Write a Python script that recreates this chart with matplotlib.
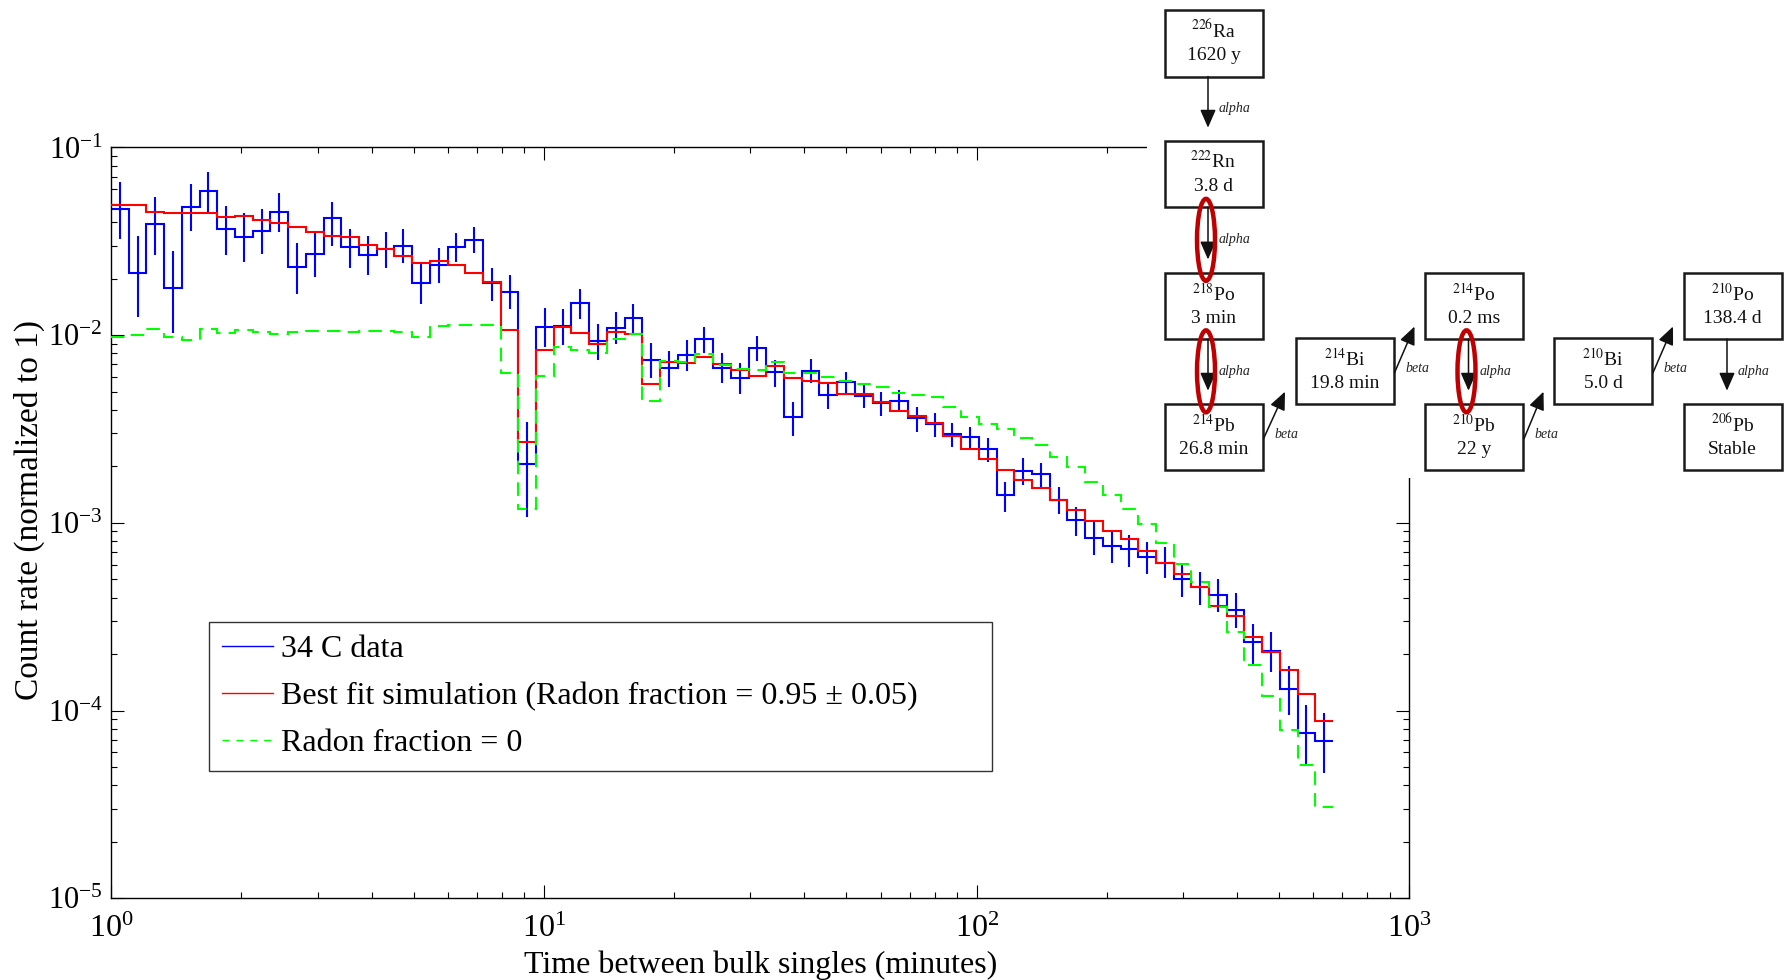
# grafico_radon.py
# Tiempo entre "bulk singles" con la cadena de desintegracion del radon

import numpy as np
import matplotlib.pyplot as plt
from matplotlib.patches import Rectangle, Ellipse, FancyArrowPatch
from matplotlib.lines import Line2D

plt.rcParams["font.family"] = ["Liberation Serif", "DejaVu Serif"]
plt.rcParams["mathtext.fontset"] = "stix"

# --------------------------------------------------
# DATOS
# bins logaritmicos entre 1 y ~666 minutos
# --------------------------------------------------
limites_bins = np.logspace(0, np.log10(666.0), 70)

datos_34c = np.array([
    0.0470, 0.0214, 0.0391, 0.0178, 0.0484, 0.0589, 0.0368, 0.0334, 0.0360, 0.0453,
    0.0230, 0.0272, 0.0420, 0.0294, 0.0268, 0.0287, 0.0300, 0.0190, 0.0238, 0.0294,
    0.0321, 0.0189, 0.0170, 0.00205, 0.0111, 0.0112, 0.0148, 0.00931, 0.01096, 0.0123,
    0.00738, 0.00672, 0.00784, 0.00951, 0.00672, 0.00589, 0.00858, 0.00634, 0.00365, 0.00647,
    0.00480, 0.00561, 0.00476, 0.00434, 0.00448, 0.00361, 0.00336, 0.00296, 0.00286, 0.00248,
    0.00140, 0.00190, 0.00182, 0.00132, 0.00103, 0.000834, 0.000753, 0.000723, 0.000656, 0.000609,
    0.000501, 0.000457, 0.000413, 0.000344, 0.000233, 0.000208, 0.000131, 0.0000757, 0.0000689])

# extremos de las barras de error
datos_sup = np.array([
    0.0653, 0.0338, 0.0543, 0.0281, 0.0639, 0.0743, 0.0488, 0.0446, 0.0469, 0.0570,
    0.0309, 0.0355, 0.0511, 0.0370, 0.0338, 0.0356, 0.0367, 0.0242, 0.0290, 0.0352,
    0.0378, 0.0229, 0.0208, 0.00344, 0.0139, 0.0138, 0.0176, 0.01148, 0.01324, 0.01461,
    0.00905, 0.00824, 0.00943, 0.01110, 0.00801, 0.00708, 0.00987, 0.00738, 0.00442, 0.00744,
    0.00561, 0.00639, 0.00550, 0.00500, 0.00510, 0.00413, 0.00384, 0.00342, 0.00325, 0.00284,
    0.00166, 0.00221, 0.00209, 0.00156, 0.00122, 0.00101, 0.000917, 0.000862, 0.000788, 0.000746,
    0.000604, 0.000550, 0.000501, 0.000422, 0.000289, 0.000263, 0.000173, 0.000107, 0.0000974])

datos_inf = np.array([
    0.0324, 0.01255, 0.0268, 0.01031, 0.0359, 0.0452, 0.0268, 0.0245, 0.0270, 0.0356,
    0.0165, 0.0203, 0.0299, 0.0229, 0.0209, 0.0227, 0.0243, 0.0147, 0.0190, 0.0245,
    0.0273, 0.0152, 0.0138, 0.00108, 0.00868, 0.00887, 0.0122, 0.00741, 0.00898, 0.01031,
    0.00589, 0.00532, 0.00645, 0.00801, 0.00554, 0.00484, 0.00731, 0.00532, 0.00291, 0.00554,
    0.00403, 0.00484, 0.00408, 0.00371, 0.00388, 0.00306, 0.00288, 0.00253, 0.00245, 0.00212,
    0.00114, 0.00159, 0.00155, 0.00112, 0.000847, 0.000675, 0.000614, 0.000584, 0.000534, 0.000507,
    0.000404, 0.000365, 0.000336, 0.000274, 0.000176, 0.000161, 0.0000948, 0.0000507, 0.0000463])

# simulacion con mejor ajuste (fraccion de radon 0.95)
ajuste = np.array([
    0.0494, 0.0494, 0.0453, 0.0446, 0.0446, 0.0449, 0.0428, 0.0434, 0.0410, 0.0395,
    0.0378, 0.0356, 0.0338, 0.0332, 0.0302, 0.0288, 0.0264, 0.0241, 0.0247, 0.0237,
    0.0215, 0.0193, 0.01066, 0.00270, 0.00834, 0.0111, 0.01021, 0.00898, 0.01035, 0.01019,
    0.00548, 0.00722, 0.00714, 0.00768, 0.00702, 0.00653, 0.00608, 0.00685, 0.00594, 0.00570,
    0.00554, 0.00488, 0.00485, 0.00442, 0.00396, 0.00373, 0.00339, 0.00289, 0.00248, 0.00220,
    0.00191, 0.00169, 0.00153, 0.00132, 0.00117, 0.00102, 0.000909, 0.000821, 0.000711, 0.000609,
    0.000534, 0.000457, 0.000362, 0.000320, 0.000248, 0.000206, 0.000165, 0.000123, 0.0000880])

# simulacion con fraccion de radon = 0
radon_cero = np.array([
    0.00972, 0.01003, 0.01076, 0.00972, 0.00946, 0.01075, 0.01023, 0.01066, 0.01043, 0.01012,
    0.01043, 0.01055, 0.01055, 0.01040, 0.01053, 0.01053, 0.01040, 0.00982, 0.01124, 0.01137,
    0.01137, 0.01129, 0.00631, 0.00118, 0.00603, 0.00860, 0.00834, 0.00799, 0.00949, 0.01015,
    0.00448, 0.00730, 0.00722, 0.00792, 0.00694, 0.00662, 0.00655, 0.00722, 0.00631, 0.00627,
    0.00599, 0.00568, 0.00550, 0.00528, 0.00490, 0.00480, 0.00470, 0.00412, 0.00368, 0.00336,
    0.00315, 0.00282, 0.00259, 0.00224, 0.00199, 0.00165, 0.00141, 0.00118, 0.000986, 0.000778,
    0.000602, 0.000486, 0.000356, 0.000261, 0.000175, 0.000120, 0.0000788, 0.0000513, 0.0000308])

etiquetas = ["34 C data",
             "Best fit simulation (Radon fraction = 0.95 ± 0.05)",
             "Radon fraction = 0"]

# cadena de desintegracion
isotopos = ["$^{226}$Ra", "$^{222}$Rn", "$^{218}$Po", "$^{214}$Pb", "$^{214}$Bi",
            "$^{214}$Po", "$^{210}$Pb", "$^{210}$Bi", "$^{210}$Po", "$^{206}$Pb"]
vidas_medias = ["1620 y", "3.8 d", "3 min", "26.8 min", "19.8 min",
                "0.2 ms", "22 y", "5.0 d", "138.4 d", "Stable"]
columna = [0, 0, 0, 0, 1, 2, 2, 3, 4, 4]
fila = [0, 1, 2, 4, 3, 2, 4, 3, 2, 4]
# (origen, destino, tipo)
desintegraciones = [(0, 1, "alpha"), (1, 2, "alpha"), (2, 3, "alpha"), (3, 4, "beta"),
                    (4, 5, "beta"), (5, 6, "alpha"), (6, 7, "beta"), (7, 8, "beta"),
                    (8, 9, "alpha")]
marcadas = [1, 2, 5]   # desintegraciones rodeadas con elipse roja

# --------------------------------------------------
# GRAFICO PRINCIPAL
# --------------------------------------------------
fig = plt.figure(figsize=(17.85, 9.8), dpi=100)
ax = fig.add_axes([0.0622, 0.0834, 0.7274, 0.7661])

centros = np.sqrt(limites_bins[:-1] * limites_bins[1:])

ax.stairs(datos_34c, limites_bins, baseline=None, color="#0000ff", lw=1.5, zorder=2)
ax.errorbar(centros, datos_34c, yerr=[datos_34c - datos_inf, datos_sup - datos_34c],
            fmt="none", ecolor="#0000ff", elinewidth=1.5, capsize=0, zorder=2)
ax.stairs(ajuste, limites_bins, baseline=None, color="#ff0000", lw=1.5, zorder=3)
ax.stairs(radon_cero, limites_bins, baseline=None, color="#00ff00", lw=1.5,
          linestyle=(0, (6.5, 3.9)), zorder=4)

ax.set_xscale("log")
ax.set_yscale("log")
ax.set_xlim(1, 1000)
ax.set_ylim(1e-5, 1e-1)

ax.tick_params(which="both", direction="in", top=True, right=True)
ax.tick_params(which="major", length=9.5, width=0.8)
ax.tick_params(which="minor", length=4.5, width=0.8)
ax.tick_params(axis="x", which="major", labelsize=23, pad=12)
ax.tick_params(axis="y", which="major", labelsize=22, pad=6)
for lado in ax.spines.values():
    lado.set_linewidth(1.0)

ax.set_xlabel("Time between bulk singles (minutes)", fontsize=23)
ax.set_ylabel("Count rate (normalized to 1)", fontsize=24)
ax.xaxis.set_label_coords(0.5, -0.07)
ax.yaxis.set_label_coords(-0.051, 0.517)

manejadores = [Line2D([], [], color="#0000ff", lw=1.0),
               Line2D([], [], color="#ff0000", lw=1.0),
               Line2D([], [], color="#00ff00", lw=1.0, linestyle=(0, (5, 5)))]
leyenda = ax.legend(manejadores, etiquetas, loc="lower left", mode="expand",
                    bbox_to_anchor=(0.0755, 0.1696, 0.603, 0.1945), borderaxespad=0,
                    fontsize=23, handlelength=1.6, handletextpad=0.25,
                    labelspacing=0.55, borderpad=0.4, fancybox=False)
leyenda.get_frame().set_edgecolor("black")
leyenda.get_frame().set_linewidth(1.0)

# --------------------------------------------------
# CADENA DE DESINTEGRACION (en pixeles de la figura)
# --------------------------------------------------
diag = fig.add_axes([1147 / 1785, 1 - 478 / 980, 638 / 1785, 478 / 980], zorder=5)
diag.set_xlim(1147, 1785)
diag.set_ylim(478, 0)
diag.set_facecolor("white")
diag.set_xticks([])
diag.set_yticks([])
for lado in diag.spines.values():
    lado.set_visible(False)

col_x = [1164.5, 1295.5, 1425, 1554, 1683.5]
fila_y = [10, 140.7, 272.5, 337.7, 403.7]
ancho, alto = 98, 66.5

for i in range(len(isotopos)):
    x0 = col_x[columna[i]]
    y0 = fila_y[fila[i]]
    diag.add_patch(Rectangle((x0, y0), ancho, alto, fill=False, ec="#1a1a1a", lw=1.8))
    diag.text(x0 + ancho / 2, y0 + 0.31 * alto, isotopos[i], ha="center", va="center",
              fontsize=14, color="#111111")
    diag.text(x0 + ancho / 2, y0 + 0.69 * alto, vidas_medias[i], ha="center", va="center",
              fontsize=14, color="#111111")

for n, (a, b, tipo) in enumerate(desintegraciones):
    xa, ya = col_x[columna[a]], fila_y[fila[a]]
    xb, yb = col_x[columna[b]], fila_y[fila[b]]
    if tipo == "alpha":
        xf = xa + 43.5
        inicio, fin = (xf, ya + alto), (xf, yb - 13)
        diag.text(xf + 11, (ya + alto + yb) / 2, "alpha", style="italic", fontsize=10,
                  ha="left", va="center", color="#222222")
        if n in marcadas:
            diag.add_patch(Ellipse((xf - 2, (ya + alto + yb) / 2), 18, 82, fill=False,
                                   ec="#c00000", lw=3.2, zorder=6))
    else:
        inicio, fin = (xa + ancho + 1, ya + 35), (xb - 10.5, yb + alto - 12.5)
        diag.text(inicio[0] + 10.5, inicio[1] - 4, "beta", style="italic", fontsize=10,
                  ha="left", va="center", color="#222222")
    diag.add_patch(FancyArrowPatch(inicio, fin, arrowstyle="-|>,head_length=1.1,head_width=0.48",
                                   mutation_scale=10, color="#111111", lw=1.1,
                                   shrinkA=0, shrinkB=0))

fig.savefig("out.png", dpi=100)
